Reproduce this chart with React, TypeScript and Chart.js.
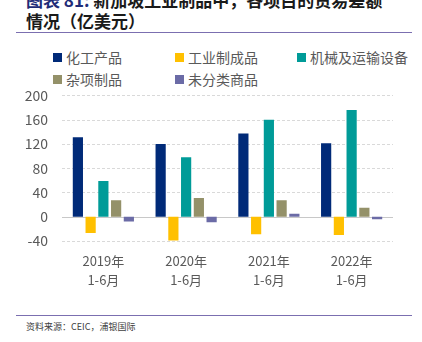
import React, { useEffect, useRef } from "react";
import { Chart, registerables } from "chart.js";

Chart.register(...registerables);

const categories: string[][] = [["2019年", "1-6月"], ["2020年", "1-6月"], ["2021年", "1-6月"], ["2022年", "1-6月"]];
const seriesNames = ["化工产品", "工业制成品", "机械及运输设备", "杂项制品", "未分类商品"];
const chemicals = [131, 120, 137, 121];
const manufactured = [-27, -39, -29, -30];
const machinery = [59, 98, 160, 176];
const misc = [27, 31, 27, 15];
const unclassified = [-8, -9, 5, -4];
const colors = ["#002A78", "#FFC000", "#009B98", "#949169", "#6B6BA6"];
const yTicks = [-40, 0, 40, 80, 120, 160, 200];

const FONT = "'Noto Sans CJK SC', 'Noto Sans', sans-serif";

const gridPlugin = {
  id: "dashgrid",
  beforeDatasetsDraw: (c: any) => {
    const { ctx, chartArea, scales } = c;
    const y = scales.y;
    ctx.save();
    ctx.lineWidth = 1;
    for (const v of yTicks) {
      const py = Math.round(y.getPixelForValue(v)) + 0.5;
      ctx.beginPath();
      if (v === 0) {
        ctx.setLineDash([]);
        ctx.strokeStyle = "#C8C8C8";
      } else {
        ctx.setLineDash([3, 2]);
        ctx.strokeStyle = "#D9D9D9";
      }
      ctx.moveTo(chartArea.left, py);
      ctx.lineTo(chartArea.right, py);
      ctx.stroke();
    }
    ctx.restore();
  },
};

export default function App() {
  const ref = useRef<HTMLCanvasElement>(null);
  useEffect(() => {
    if (!ref.current) return;
    const values = [chemicals, manufactured, machinery, misc, unclassified];
    const chart = new Chart(ref.current, {
      type: "bar",
      data: {
        labels: categories,
        datasets: seriesNames.map((n, i) => ({
          label: n,
          data: values[i],
          backgroundColor: colors[i],
          borderWidth: 0,
          categoryPercentage: 0.77,
          barPercentage: 0.8,
        })),
      },
      options: {
        animation: false,
        responsive: false,
        maintainAspectRatio: false,
        layout: { padding: { top: 10, right: 29, bottom: 4, left: 0 } },
        plugins: { legend: { display: false }, tooltip: { enabled: false } },
        scales: {
          x: {
            grid: { display: false, drawTicks: false },
            border: { display: false },
            ticks: { color: "#595959", font: { family: FONT, size: 13, lineHeight: 1.5 }, padding: 10, maxRotation: 0 },
          },
          y: {
            min: -40,
            max: 200,
            afterBuildTicks: (axis: any) => {
              axis.ticks = yTicks.map((v) => ({ value: v }));
            },
            afterFit: (axis: any) => {
              axis.width = 62;
            },
            grid: { display: false, drawTicks: false },
            border: { display: false },
            ticks: { color: "#595959", font: { family: FONT, size: 14 }, padding: 14 },
          },
        },
      },
      plugins: [gridPlugin],
    });
    return () => chart.destroy();
  }, []);

  const legendItem = (i: number, x: number, y: number) => (
    <div key={i} style={{ position: "absolute", left: x, top: y, display: "flex", alignItems: "center", whiteSpace: "nowrap" }}>
      <div style={{ width: 9, height: 9, background: colors[i], marginRight: 4 }} />
      <span style={{ fontSize: 14, color: "#595959", fontFamily: FONT, lineHeight: "16px" }}>{seriesNames[i]}</span>
    </div>
  );

  return (
    <div style={{ position: "fixed", left: 0, top: 0, width: 422, height: 342, background: "#fff", overflow: "hidden", fontFamily: FONT }}>
      <div style={{ position: "absolute", left: 26, top: -11, fontSize: 17, fontWeight: "bold", lineHeight: "21px", color: "#1a1a1a", whiteSpace: "nowrap" }}>
        <div><span style={{ color: "#1F2C78" }}>图表 81:</span> 新加坡工业制品中，各项目的贸易差额</div>
        <div>情况（亿美元）</div>
      </div>
      <div style={{ position: "absolute", left: 16, top: 32, width: 396, height: 1, background: "#7B6FB0" }} />
      {legendItem(0, 53, 49)}
      {legendItem(1, 175, 49)}
      {legendItem(2, 297, 49)}
      {legendItem(3, 53, 71)}
      {legendItem(4, 175, 71)}
      <canvas ref={ref} width={422} height={231} style={{ position: "absolute", left: 0, top: 73, width: 422, height: 231 }} />
      <div style={{ position: "absolute", left: 16, top: 315, width: 396, height: 1, background: "#7B6FB0" }} />
      <div style={{ position: "absolute", left: 26, top: 320, fontSize: 9, color: "#404040", lineHeight: "14px" }}>资料来源：CEIC，浦银国际</div>
    </div>
  );
}
